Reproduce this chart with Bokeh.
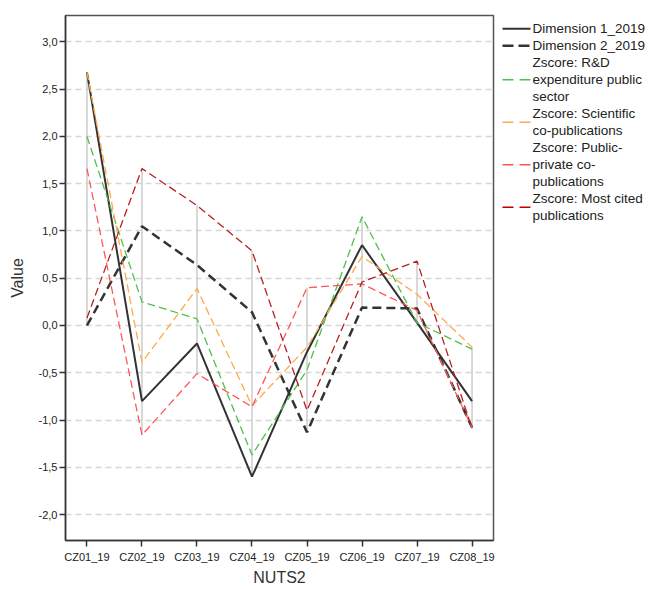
import numpy as np
from bokeh.plotting import figure
from bokeh.models import FixedTicker, Range1d
from bokeh.layouts import row
from bokeh.embed import file_html
from bokeh.resources import INLINE
from bokeh.core.properties import value

# ---- data ----
categories = ["CZ01_19", "CZ02_19", "CZ03_19", "CZ04_19", "CZ05_19", "CZ06_19", "CZ07_19", "CZ08_19"]
dim1 = [2.68, -0.80, -0.19, -1.60, -0.28, 0.85, 0.03, -0.80]
dim2 = [0.00, 1.05, 0.64, 0.14, -1.13, 0.19, 0.18, -1.08]
rd_exp = [2.00, 0.25, 0.07, -1.37, -0.47, 1.15, 0.03, -0.25]
sci_copub = [2.68, -0.39, 0.39, -0.85, -0.23, 0.73, 0.33, -0.23]
pp_copub = [1.66, -1.16, -0.51, -0.86, 0.40, 0.44, 0.16, -1.08]
most_cited = [0.08, 1.66, 1.27, 0.79, -0.90, 0.46, 0.68, -1.09]

y_ticks = [-2.0, -1.5, -1.0, -0.5, 0.0, 0.5, 1.0, 1.5, 2.0, 2.5, 3.0]
y_tick_labels = ["-2,0", "-1,5", "-1,0", "-0,5", "0,0", "0,5", "1,0", "1,5", "2,0", "2,5", "3,0"]

series_names = ["Dimension 1_2019", "Dimension 2_2019",
                "Zscore:  R&D\nexpenditure public\nsector",
                "Zscore:  Scientific\nco-publications",
                "Zscore:  Public-\nprivate co-\npublications",
                "Zscore:  Most cited\npublications"]

FONT = "Liberation Sans"

xs = list(range(len(categories)))
all_series = [dim1, dim2, rd_exp, sci_copub, pp_copub, most_cited]
styles = [
    dict(color="#333333", width=2.0, dash="solid"),
    dict(color="#333333", width=2.5, dash="9 5"),
    dict(color="#4cc24c", width=1.3, dash="8 4"),
    dict(color="#ffa94a", width=1.3, dash="8 4"),
    dict(color="#ff5757", width=1.3, dash="8 4"),
    dict(color="#b82020", width=1.3, dash="8 4"),
]

H = 588
W1 = 498
TOP, BOT = 15, 48
p = figure(width=W1, height=H, x_range=Range1d(-0.39, 7.39), y_range=Range1d(-2.275, 3.28),
           output_backend="svg", toolbar_location=None, title_location=None,
           min_border_left=65, min_border_top=TOP, min_border_right=5, min_border_bottom=BOT,
           background_fill_color="white", border_fill_color="white")
p.outline_line_color = "#555555"
p.outline_line_width = 1.5

# high-low lines
arr = np.array(all_series)
p.segment(x0=xs, y0=arr.min(axis=0), x1=xs, y1=arr.max(axis=0), line_color="#cccccc", line_width=1.5)

for s, st in zip(all_series, styles):
    p.line(xs, s, line_color=st["color"], line_width=st["width"], line_dash=st["dash"])

# axes
p.xaxis.ticker = FixedTicker(ticks=xs)
p.xaxis.major_label_overrides = {i: c for i, c in enumerate(categories)}
p.yaxis.ticker = FixedTicker(ticks=y_ticks)
p.yaxis.major_label_overrides = {t: l for t, l in zip(y_ticks, y_tick_labels)}
for ax in (p.xaxis, p.yaxis):
    ax.axis_line_color = "#333333"
    ax.axis_line_width = 1.5
    ax.major_tick_line_color = "#333333"
    ax.major_tick_line_width = 1.5
    ax.major_tick_out = 6
    ax.major_tick_in = 0
    ax.minor_tick_line_color = None
    ax.major_label_text_font = FONT
    ax.major_label_text_font_size = "11px"
    ax.major_label_text_color = "#222222"
    ax.axis_label_text_font = FONT
    ax.axis_label_text_font_style = "normal"
    ax.axis_label_text_color = "#333333"
p.xaxis.major_label_standoff = 4
p.yaxis.major_label_standoff = 2
p.xaxis.axis_label = "NUTS2"
p.yaxis.axis_label = "Value"
p.xaxis.axis_label_text_font_size = "16px"
p.yaxis.axis_label_text_font_size = "16px"
p.xaxis.axis_label_standoff = 3
p.yaxis.axis_label_standoff = 10

p.xgrid.grid_line_color = None
p.ygrid.ticker = FixedTicker(ticks=y_ticks)
p.ygrid.grid_line_color = "#d6d6d6"
p.ygrid.grid_line_dash = "6 4"
p.ygrid.grid_line_width = 1.5

# ---- legend panel (frame aligned with main frame; y in page pixels) ----
LW = 650 - W1
lg = figure(width=LW, height=H, x_range=Range1d(0, LW), y_range=Range1d(H - BOT, TOP),
            output_backend="svg", toolbar_location=None, title_location=None,
            x_axis_type=None, y_axis_type=None,
            min_border_left=0, min_border_right=0, min_border_top=TOP, min_border_bottom=BOT,
            background_fill_color="white", border_fill_color="white")
lg.outline_line_color = None
lg.xgrid.grid_line_color = None
lg.ygrid.grid_line_color = None

line_h = 17.0
y = 28.3
sx0, sx1, tx = 4, 32, 34
leg_styles = [
    dict(color="#333333", width=2.0, dash="solid"),
    dict(color="#333333", width=2.5, dash="11 5"),
    dict(color="#4cc24c", width=1.5, dash="11 6"),
    dict(color="#ffa94a", width=1.5, dash="11 6"),
    dict(color="#ff5757", width=1.5, dash="11 6"),
    dict(color="#c00000", width=1.5, dash="11 6"),
]
for name, st in zip(series_names, leg_styles):
    lines = name.split("\n")
    n = len(lines)
    ys = [y + i * line_h for i in range(n)]
    ymid = (ys[0] + ys[-1]) / 2.0
    lg.line([sx0, sx1], [ymid, ymid], line_color=st["color"], line_width=st["width"], line_dash=st["dash"])
    lg.text(x=[tx] * n, y=ys, text=lines, text_font=value(FONT), text_font_size="13.5px",
            text_baseline="middle", text_align="left", text_color="#222222")
    y = ys[-1] + line_h

layout = row(p, lg)
open("out.html", "w").write(file_html(layout, INLINE))
